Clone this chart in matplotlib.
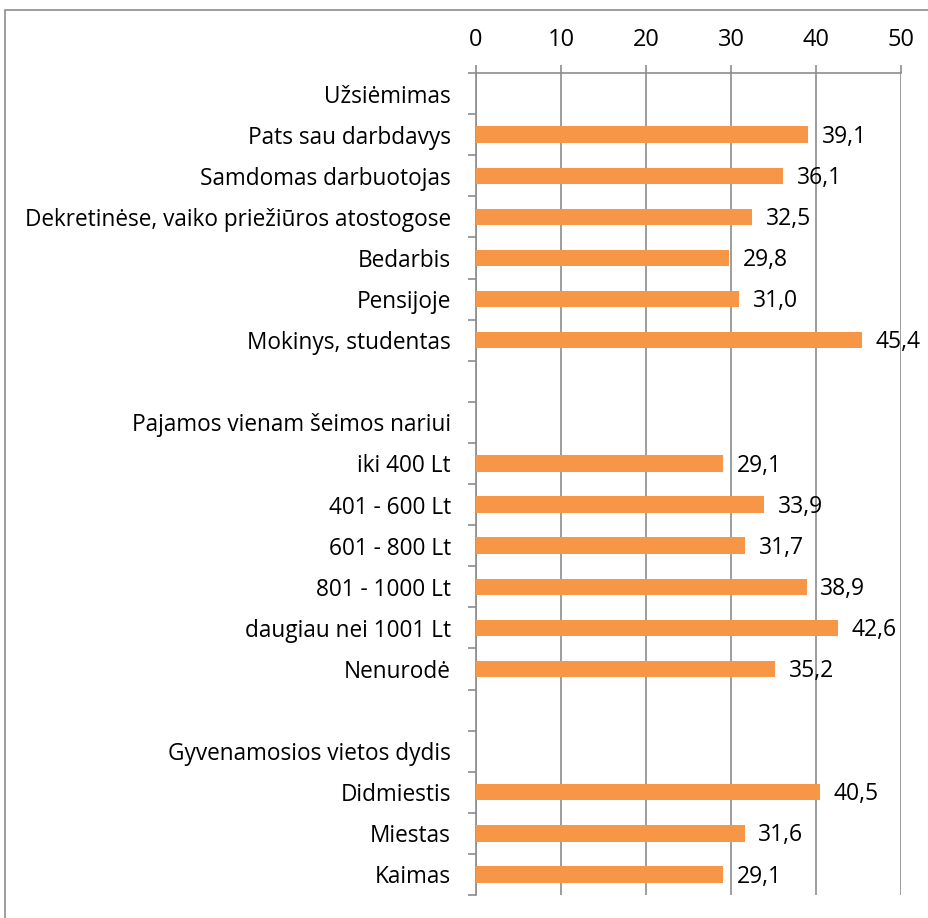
import matplotlib
matplotlib.use('Agg')
import matplotlib.pyplot as plt
from matplotlib.patches import Rectangle
import numpy as np

plt.rcParams['font.family'] = ['Open Sans', 'DejaVu Sans']

# categories from top to bottom (empty value = group heading / spacer)
labels = ['Užsiėmimas', 'Pats sau darbdavys', 'Samdomas darbuotojas',
          'Dekretinėse, vaiko priežiūros atostogose', 'Bedarbis', 'Pensijoje',
          'Mokinys, studentas', '', 'Pajamos vienam šeimos nariui',
          'iki 400 Lt', '401 - 600 Lt', '601 - 800 Lt', '801 - 1000 Lt',
          'daugiau nei 1001 Lt', 'Nenurodė', '', 'Gyvenamosios vietos dydis',
          'Didmiestis', 'Miestas', 'Kaimas']
values = [None, 39.1, 36.1, 32.5, 29.8, 31.0, 45.4, None, None,
          29.1, 33.9, 31.7, 38.9, 42.6, 35.2, None, None,
          40.5, 31.6, 29.1]
xticks = [0, 10, 20, 30, 40, 50]

fig = plt.figure(figsize=(9.29, 9.18), dpi=100)
ax = fig.add_axes([476 / 929, 1 - 895 / 918, 425 / 929, 822 / 918])

# outer chart frame
fig.patches.append(Rectangle((5 / 929, -0.01), 930 / 929, 1 - 10 / 918 + 0.01,
                             transform=fig.transFigure, fill=False,
                             edgecolor='#8c8c8c', linewidth=1.2))

n = len(labels)
ypos = np.arange(n)
for y, v in zip(ypos, values):
    if v is None:
        continue
    ax.barh(y, v, height=0.4, color='#F79646', zorder=3)
    ax.text(v + 1.6, y + 0.05, f'{v:.1f}'.replace('.', ','), va='center',
            ha='left', fontsize=16.5)

ax.set_ylim(n - 0.5, -0.5)
ax.set_xlim(0, 50)
ax.set_yticks(ypos)
ax.set_yticklabels(labels, fontsize=16.3)
ax.set_yticks(np.arange(n + 1) - 0.5, minor=True)
ax.tick_params(axis='y', which='major', length=0, pad=18)
ax.tick_params(axis='y', which='minor', length=6, color='#8c8c8c', width=1.2)

ax.xaxis.tick_top()
ax.set_xticks(xticks)
ax.set_xticklabels([str(t) for t in xticks], fontsize=17)
ax.tick_params(axis='x', length=6, color='#8c8c8c', width=1.2, pad=9)
ax.grid(axis='x', color='#8c8c8c', linewidth=1.2, zorder=0)

for side in ['right', 'bottom']:
    ax.spines[side].set_visible(False)
for side in ['top', 'left']:
    ax.spines[side].set_color('#8c8c8c')
    ax.spines[side].set_linewidth(1.2)

fig.savefig('out.png', dpi=100)
